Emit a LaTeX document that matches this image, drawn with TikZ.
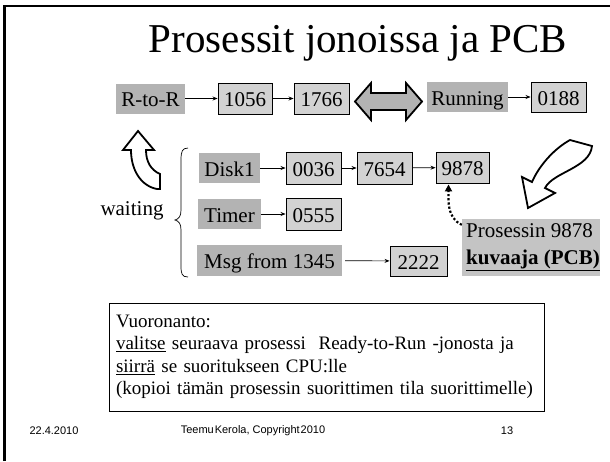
\documentclass[tikz,border=0pt]{standalone}
\usepackage{fontspec}
\setmainfont{Liberation Serif}
\newfontfamily\footfont{Liberation Sans}
\usetikzlibrary{arrows.meta}
\definecolor{lblgray}{HTML}{B3B3B3}
\definecolor{numgray}{HTML}{D2D2D2}
\definecolor{callgray}{HTML}{C4C4C4}
\begin{document}
\begin{tikzpicture}[x=1pt,y=-1pt,
  boxfont/.style={font=\fontsize{21}{23}\selectfont, text height=16.5pt, text depth=0pt},
  lbl/.style={fill=lblgray, inner sep=0pt, boxfont},
  num/.style={draw=black, line width=0.9pt, fill=numgray, inner sep=0pt, boxfont},
  arr/.style={-{Stealth[length=5pt,width=4pt]}, line width=0.7pt},
  blockarrow/.style={draw=black, line width=1.8pt, line join=miter},
  foot/.style={font=\footfont\fontsize{11}{13}\selectfont}]
\useasboundingbox (0,0) rectangle (610,461);
\fill[white] (0,0) rectangle (610,461);
\draw[line width=2.8pt] (4.5,461) -- (4.5,6) -- (610,6);

% title
\node[font=\fontsize{41}{46}\selectfont] (title) at (358,43) {Prosessit jonoissa ja PCB};

% row 1
\node[lbl, minimum width=69, minimum height=30] (rtr) at (150.5,98.5) {R-to-R};
\node[num, minimum width=54, minimum height=31] (n1056) at (245,98.5) {1056};
\node[num, minimum width=55, minimum height=31] (n1766) at (321.5,98.5) {1766};
\node[lbl, minimum width=81, minimum height=30] (run) at (467.5,97) {Running};
\node[num, minimum width=55, minimum height=30] (n0188) at (558.5,97) {0188};
\draw[arr] (rtr) -- (n1056);
\draw[arr] (n1056) -- (n1766);
\draw[arr] (run) -- (n0188);
\draw[blockarrow, fill=lblgray] (355,101.5) -- (371,83) -- (371,93) -- (406,93) -- (406,83)
  -- (422,101.5) -- (406,120) -- (406,110) -- (371,110) -- (371,120) -- cycle;

% waiting queues
\node[lbl, minimum width=61, minimum height=30] (disk) at (229.5,168) {Disk1};
\node[num, minimum width=55, minimum height=32] (n0036) at (313.5,168) {0036};
\node[num, minimum width=55, minimum height=32] (n7654) at (384.5,168) {7654};
\node[num, minimum width=53, minimum height=31] (n9878) at (462.5,167.5) {9878};
\draw[arr] (disk) -- (n0036);
\draw[arr] (n0036) -- (n7654);
\draw[arr] (n7654) -- (n9878);

\node[lbl, minimum width=63, minimum height=30] (timer) at (229.5,214) {Timer};
\node[num, minimum width=55, minimum height=32] (n0555) at (313.5,214) {0555};
\draw[arr] (timer) -- (n0555);

\node[lbl, minimum width=145, minimum height=31] (msg) at (269.5,260.5) {Msg from 1345};
\node[num, minimum width=57, minimum height=30] (n2222) at (418.5,261) {2222};
\draw[arr, shorten <=3pt] (msg) -- (n2222);

% brace and waiting
\draw[line width=0.7pt] (188,148) .. controls (182,148) and (181,152) .. (181,160)
  -- (181,210) .. controls (181,216) and (179,219) .. (175,220)
  .. controls (179,221) and (181,224) .. (181,230)
  -- (181,266) .. controls (181,274) and (182,277) .. (188,277);
\node[font=\fontsize{21}{23}\selectfont] (waiting) at (132,211) {waiting};

% curved block arrows
\draw[blockarrow, fill=white] (138,131) -- (154,150) -- (146,150)
  .. controls (146,162) and (151,170) .. (160,174) -- (160,189) -- (157,189)
  .. controls (141,186) and (131,170) .. (131,150) -- (123,150) -- cycle;
\draw[blockarrow, fill=white] (570,140) -- (592,146)
  .. controls (590,168) and (553,172) .. (545,188) -- (555,193) -- (528,208)
  -- (522,177) -- (532,182) .. controls (538,168) and (552,150) .. (570,140) -- cycle;

% callout
\node[fill=callgray, minimum width=138, minimum height=57, inner sep=0pt] (call) at (531,247.5) {};
\node[anchor=west, align=left, font=\fontsize{21}{27}\selectfont, inner sep=0pt] (calltext) at (466,247.5)
  {Prosessin 9878\\\underline{\textbf{kuvaaja (PCB)}}};
\draw[dotted, line width=2.2pt, -{Triangle[length=7pt,width=7pt]}]
  ([yshift=-6pt]call.north west) to[out=155,in=-90] ([xshift=-14pt, yshift=-1pt]n9878.south);

% scheduling box
\node[draw=black, line width=0.9pt, fill=white, minimum width=435, minimum height=108,
  text width=421, inner xsep=7pt, align=left, font=\fontsize{19}{22.5}\selectfont] (sched) at (326.5,357)
  {Vuoronanto:\\
   \underline{valitse} seuraava prosessi\ \ Ready-to-Run -jonosta ja\\
   \underline{siirrä} se suoritukseen CPU:lle\\
   (kopioi tämän prosessin suorittimen tila suorittimelle)};

% footer
\node[foot] (date) at (54,431) {22.4.2010};
\node[foot] (copy) at (253,431) {Teemu\hspace{1pt}Kerola, Copyright\hspace{1pt}2010};
\node[foot] (page) at (507,431) {13};
\end{tikzpicture}
\end{document}
